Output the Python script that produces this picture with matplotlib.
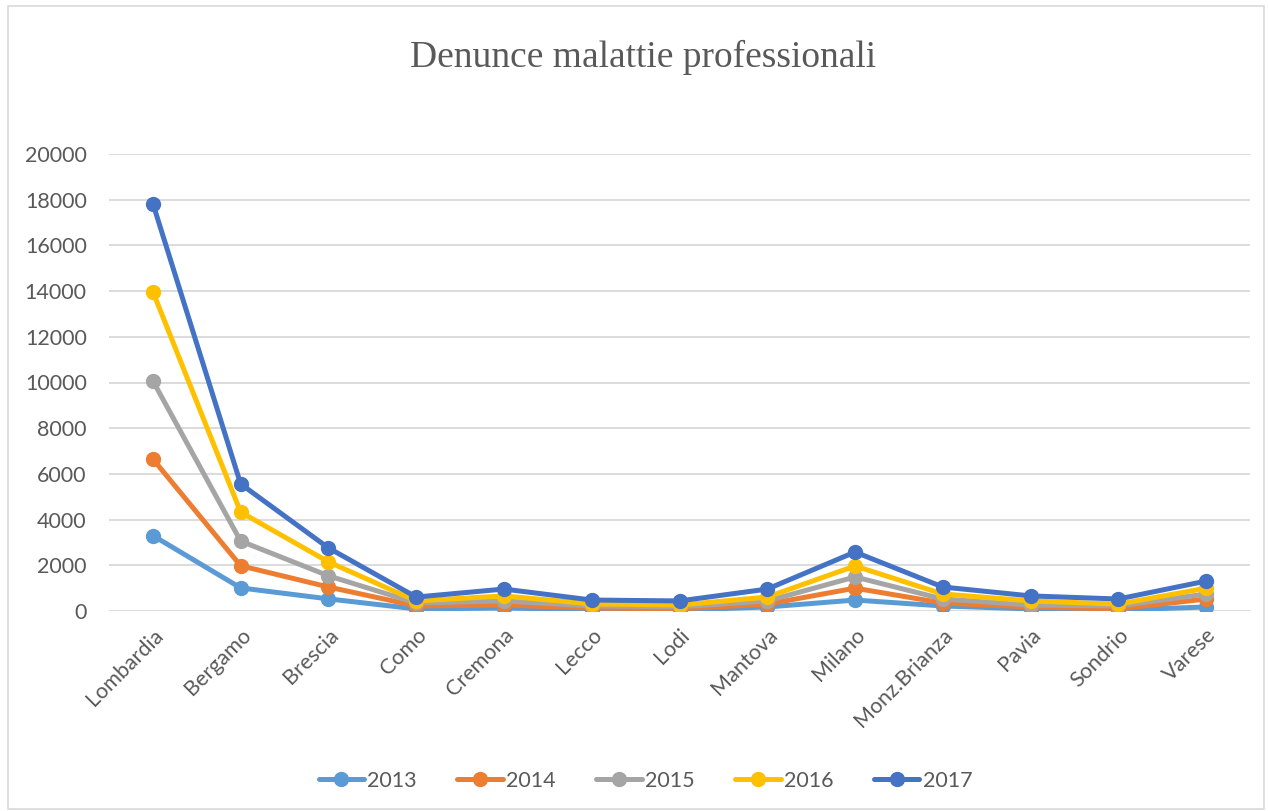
import numpy as np
import matplotlib
matplotlib.use('Agg')
import matplotlib.pyplot as plt
from matplotlib.patches import Rectangle

# Province / regione
province = ['Lombardia', 'Bergamo', 'Brescia', 'Como', 'Cremona', 'Lecco', 'Lodi',
            'Mantova', 'Milano', 'Monz.Brianza', 'Pavia', 'Sondrio', 'Varese']

# Denunce per anno (grafico a linee in pila)
anni = ['2013', '2014', '2015', '2016', '2017']
d2013 = [3300, 1010, 530, 90, 130, 60, 40, 175, 480, 220, 90, 45, 175]
d2014 = [3350, 970, 520, 130, 130, 70, 50, 125, 520, 130, 85, 45, 350]
d2015 = [3420, 1080, 490, 130, 180, 90, 90, 140, 490, 175, 85, 130, 220]
d2016 = [3900, 1270, 610, 90, 220, 90, 80, 170, 480, 220, 180, 80, 255]
d2017 = [3860, 1230, 610, 170, 300, 170, 180, 350, 610, 305, 220, 225, 310]

colori = ['#5B9BD5', '#ED7D31', '#A5A5A5', '#FFC000', '#4472C4']

fig = plt.figure(figsize=(12.68, 8.11), dpi=100)
ax = fig.add_axes([109 / 1268, 1 - 611 / 811, (1250 - 109) / 1268, (611 - 154) / 811])

# cumulative stacking like Excel "stacked line"
stack = np.cumsum(np.array([d2013, d2014, d2015, d2016, d2017]), axis=0)
x = np.arange(len(province))
for i, anno in enumerate(anni):
    ax.plot(x, stack[i], color=colori[i], lw=3.6, marker='o', ms=10,
            label=anno, solid_capstyle='round', zorder=3 + i)

ax.set_xlim(-0.5, len(province) - 0.5)
ax.set_ylim(0, 20000)
ax.set_yticks(np.arange(0, 20001, 2000))
ax.grid(axis='y', color='#D9D9D9', lw=1.3)
ax.set_axisbelow(True)
for s in ax.spines.values():
    s.set_visible(False)
ax.tick_params(length=0, labelsize=15.5, labelcolor='#595959', pad=16)
ax.set_xticks(x)
ax.set_xticklabels(province, rotation=45, ha='right', rotation_mode='anchor')
for lab in ax.get_xticklabels() + ax.get_yticklabels():
    lab.set_fontfamily('Lato')
ax.tick_params(axis='x', pad=10)

fig.text(0.507, 1 - 57 / 811, 'Denunce malattie professionali', ha='center', va='center',
         fontsize=27, color='#595959', family='Liberation Serif')

leg = fig.legend(loc='center', bbox_to_anchor=(0.509, 1 - 781 / 811), ncol=5, frameon=False,
                 prop={'family': 'Lato', 'size': 15.5}, handlelength=2.1, columnspacing=1.9,
                 handletextpad=0.15)
for t in leg.get_texts():
    t.set_color('#595959')

fig.patches.append(Rectangle((8 / 1268, 0.002), 1256 / 1268, 0.99, transform=fig.transFigure,
                             fill=False, edgecolor='#D9D9D9', lw=1.2))

fig.savefig('out.png', dpi=100)
